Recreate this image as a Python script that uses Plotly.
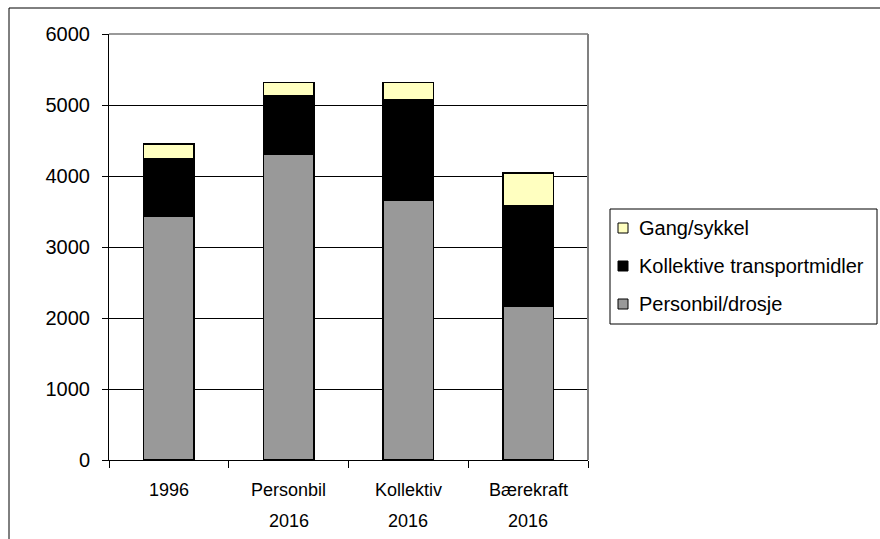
import plotly.graph_objects as go

categories = ["1996", "Personbil 2016", "Kollektiv 2016", "Bærekraft 2016"]
personbil = [3440, 4310, 3665, 2170]
kollektiv = [810, 815, 1405, 1405]
gang = [200, 195, 250, 470]
y_ticks = [0, 1000, 2000, 3000, 4000, 5000, 6000]

W, H = 880, 539
L, R, T, B = 109, 588, 34, 460
pw, ph = R - L, B - T
FONT = "Liberation Sans, Arial, sans-serif"


def px_x(p):
    return (p - L) / pw


def px_y(p):
    return (B - p) / ph


fig = go.Figure()
series = [
    ("Personbil/drosje", personbil, "#999999"),
    ("Kollektive transportmidler", kollektiv, "#000000"),
    ("Gang/sykkel", gang, "#FFFFC0"),
]
for name, vals, col in series:
    fig.add_trace(go.Bar(
        x=categories, y=vals, name=name, showlegend=False,
        marker=dict(color=col, line=dict(color="#000000", width=1.5)),
        width=0.42,
    ))

# category labels, one annotation per word/line
for idx, cat in enumerate(categories):
    for i, line in enumerate(cat.split(" ")):
        fig.add_annotation(
            x=idx, y=0, xref="x", yref="paper", text=line, showarrow=False,
            yanchor="middle", yshift=-30 - 31 * i,
            font=dict(family=FONT, size=18, color="#000000"),
        )

# legend box, top entry is the top of the stack
fig.add_shape(type="rect", xref="paper", yref="paper",
              x0=px_x(610), x1=px_x(877), y0=px_y(324), y1=px_y(209),
              line=dict(color="#000000", width=1), fillcolor="white")
for k, (name, _, col) in enumerate(reversed(series)):
    yc = 228 + 38 * k
    fig.add_shape(type="rect", xref="paper", yref="paper",
                  x0=px_x(618), x1=px_x(628), y0=px_y(yc + 5), y1=px_y(yc - 5),
                  line=dict(color="#000000", width=1), fillcolor=col)
    fig.add_annotation(x=px_x(637), y=px_y(yc), xref="paper", yref="paper",
                       text=name, showarrow=False, xanchor="left", yanchor="middle",
                       font=dict(family=FONT, size=20, color="#000000"))

# outer chart frame
fig.add_shape(type="rect", xref="paper", yref="paper",
              x0=px_x(9), x1=px_x(890), y0=px_y(560), y1=px_y(8),
              line=dict(color="#000000", width=1), layer="below")
# plot area top/right border
fig.add_shape(type="line", xref="paper", yref="paper", x0=0, x1=1, y0=1, y1=1,
              line=dict(color="#999999", width=2))
fig.add_shape(type="line", xref="paper", yref="paper", x0=1, x1=1, y0=0, y1=1,
              line=dict(color="#808080", width=2))

fig.update_layout(
    width=W, height=H,
    margin=dict(l=L, r=W - R, t=T, b=H - B, pad=0, autoexpand=False),
    barmode="stack",
    plot_bgcolor="white", paper_bgcolor="white",
    font=dict(family=FONT, size=20, color="#000000"),
    showlegend=False,
    xaxis=dict(
        showline=True, linecolor="#000000", linewidth=1,
        ticks="outside", ticklen=7, tickcolor="#000000", tickson="boundaries",
        showticklabels=False, showgrid=False,
    ),
    yaxis=dict(
        range=[0, 6000], tickvals=y_ticks,
        showline=True, linecolor="#000000", linewidth=1,
        ticks="outside", ticklen=6, tickcolor="#000000",
        showgrid=True, gridcolor="#000000", gridwidth=1,
        zeroline=False, ticklabelstandoff=8,
    ),
)

fig.write_html("out.html")
